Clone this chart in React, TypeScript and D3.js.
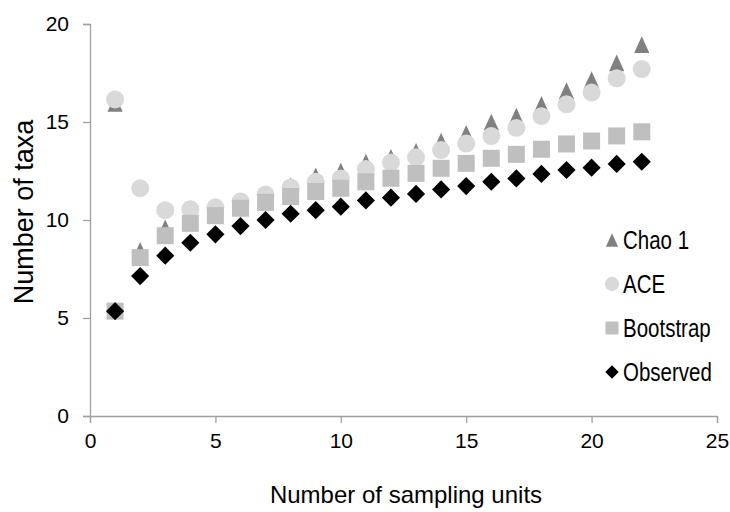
import { useEffect, useRef } from "react";
import * as d3 from "d3";

const units = [1, 2, 3, 4, 5, 6, 7, 8, 9, 10, 11, 12, 13, 14, 15, 16, 17, 18, 19, 20, 21, 22];
const chao1 = [15.95, 8.45, 9.6, 10.2, 10.45, 10.85, 11.25, 11.75, 12.25, 12.5, 12.95, 13.2, 13.5, 14.02, 14.42, 15.0, 15.3, 15.9, 16.6, 17.17, 18.02, 18.95];
const ace = [16.15, 11.62, 10.5, 10.55, 10.65, 10.95, 11.3, 11.66, 11.95, 12.12, 12.6, 12.93, 13.2, 13.57, 13.9, 14.28, 14.7, 15.3, 15.9, 16.5, 17.23, 17.7];
const bootstrap = [5.35, 8.08, 9.2, 9.83, 10.22, 10.6, 10.9, 11.2, 11.45, 11.62, 11.95, 12.13, 12.38, 12.64, 12.89, 13.15, 13.35, 13.61, 13.88, 14.03, 14.29, 14.5];
const observed = [5.35, 7.14, 8.18, 8.84, 9.27, 9.69, 10.0, 10.32, 10.5, 10.68, 11.0, 11.14, 11.33, 11.56, 11.73, 11.95, 12.12, 12.35, 12.55, 12.67, 12.86, 12.97];
const xTicks = [0, 5, 10, 15, 20, 25];
const yTicks = [0, 5, 10, 15, 20];

// excel style triangle: centred on its bounding box, a bit taller than wide
const triangle = {
	draw(ctx: any, size: number) {
		const w = Math.sqrt(size);
		const h = w * 1.1;
		ctx.moveTo(0, -h / 2);
		ctx.lineTo(w / 2, h / 2);
		ctx.lineTo(-w / 2, h / 2);
		ctx.closePath();
	},
};

const series = [
	{ name: "Chao 1", values: chao1, type: triangle, size: 230, legendSize: 150, color: "#808080", rotate: 0 },
	{ name: "ACE", values: ace, type: d3.symbolCircle, size: 254, legendSize: 160, color: "#d9d9d9", rotate: 0 },
	{ name: "Bootstrap", values: bootstrap, type: d3.symbolSquare, size: 289, legendSize: 169, color: "#bfbfbf", rotate: 0 },
	{ name: "Observed", values: observed, type: d3.symbolSquare, size: 165, legendSize: 90, color: "#000000", rotate: 45 },
];

export default function App() {
	const svgRef = useRef<SVGSVGElement>(null);

	useEffect(() => {
		if (!svgRef.current) return;
		const svg = d3.select(svgRef.current);
		svg.selectAll("*").remove();

		const x = d3.scaleLinear().domain([0, 25]).range([90, 717]);
		const y = d3.scaleLinear().domain([0, 20]).range([416, 24]);
		const axisColor = "#a0a0a0";
		const font = "'Liberation Sans', Arial, sans-serif";

		const gx = svg.append("g").attr("transform", `translate(0,${y(0)})`);
		gx.call(d3.axisBottom(x).tickValues(xTicks).tickSize(7).tickPadding(10));
		const gy = svg.append("g").attr("transform", `translate(${x(0)},0)`);
		gy.call(d3.axisLeft(y).tickValues(yTicks).tickSize(7).tickPadding(14));

		svg.selectAll(".domain").attr("stroke", axisColor).attr("stroke-width", 1.3);
		svg.selectAll(".tick line").attr("stroke", axisColor).attr("stroke-width", 1.3);
		svg.selectAll(".tick text")
			.attr("fill", "#000")
			.style("font-family", font)
			.style("font-size", "21px");

		series.forEach((s) => {
			const sym = d3.symbol().type(s.type as any).size(s.size);
			svg.append("g")
				.selectAll("path")
				.data(s.values)
				.enter()
				.append("path")
				.attr("d", sym)
				.attr("transform", (d, i) => `translate(${x(units[i])},${y(d)}) rotate(${s.rotate})`)
				.attr("fill", s.color);
		});

		// legend text in the reference is condensed, squeeze it horizontally
		const legend = svg.append("g");
		series.forEach((s, i) => {
			const cy = 240 + i * 44;
			legend.append("path")
				.attr("d", d3.symbol().type(s.type as any).size(s.legendSize)())
				.attr("transform", `translate(612,${cy}) rotate(${s.rotate})`)
				.attr("fill", s.color);
			legend.append("text")
				.attr("transform", `translate(623,${cy + 9}) scale(0.82,1)`)
				.style("font-family", font)
				.style("font-size", "25px")
				.text(s.name);
		});

		svg.append("text")
			.attr("x", 406)
			.attr("y", 503)
			.attr("text-anchor", "middle")
			.style("font-family", font)
			.style("font-size", "24px")
			.text("Number of sampling units");

		svg.append("text")
			.attr("transform", "translate(33,212) rotate(-90)")
			.attr("text-anchor", "middle")
			.style("font-family", font)
			.style("font-size", "27px")
			.text("Number of taxa");
	}, []);

	return (
		<svg
			ref={svgRef}
			width={730}
			height={512}
			style={{ position: "absolute", left: 0, top: 0, background: "#fff" }}
		/>
	);
}
